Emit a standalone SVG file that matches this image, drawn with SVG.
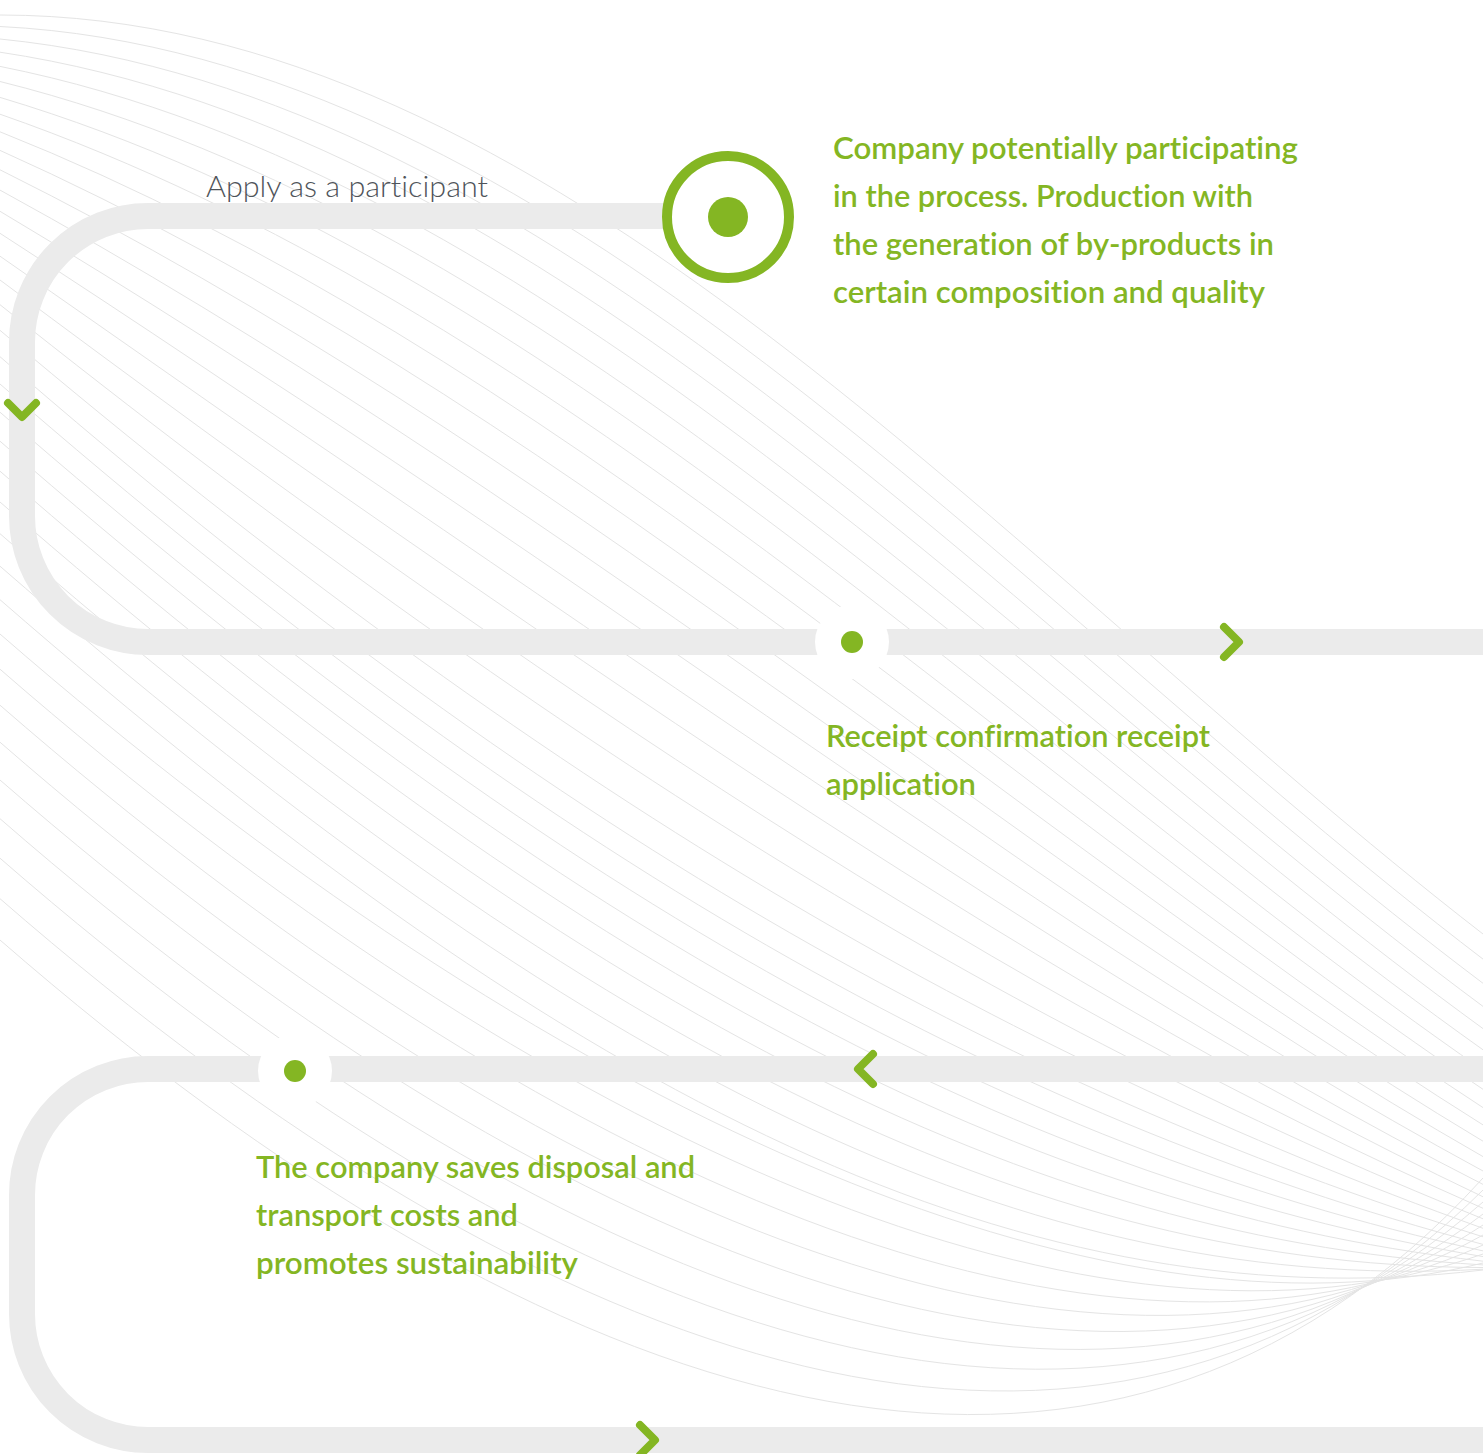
<svg xmlns="http://www.w3.org/2000/svg" width="1483" height="1454" viewBox="0 0 1483 1454">
<style>
.bg{fill:none;stroke:#e4e4e4;stroke-width:1}
.track{fill:none;stroke:#ebebeb;stroke-width:26}
.chev{fill:none;stroke:#84b623;stroke-width:8;stroke-linecap:round;stroke-linejoin:round}
.dot{fill:#84b623}
.halo{fill:#ffffff}
.lbl{font-family:Lato,"Open Sans","Liberation Sans",sans-serif;font-weight:600;font-size:30px;fill:#84b623;font-variant-ligatures:no-common-ligatures}
.gray{font-family:Lato,"Open Sans","Liberation Sans",sans-serif;font-weight:300;font-size:29px;fill:#4f545a;font-variant-ligatures:no-common-ligatures}
</style>
<rect width="1483" height="1454" fill="#ffffff"/>
<g id="background">
<path class="bg" d="M0 15 C550 15 1000 560 1483 934"/>
<path class="bg" d="M0 26.5 C550 53.8 1000 590 1483 959.1"/>
<path class="bg" d="M0 39 C550 93.7 1000 619 1483 983.3"/>
<path class="bg" d="M0 52.2 C550 134.2 1000 648 1483 1006.4"/>
<path class="bg" d="M0 66.4 C550 175.8 1000 677 1483 1028.6"/>
<path class="bg" d="M0 81.5 C550 218.2 1000 706 1483 1049.8"/>
<path class="bg" d="M0 97.4 C550 261.5 1000 735 1483 1070.1"/>
<path class="bg" d="M0 114.2 C550 305.6 1000 764 1483 1089.3"/>
<path class="bg" d="M0 131.8 C550 350.5 1000 793 1483 1107.6"/>
<path class="bg" d="M0 150.4 C550 396.5 1000 822 1483 1124.9"/>
<path class="bg" d="M0 169.8 C550 443.2 1000 851 1483 1141.2"/>
<path class="bg" d="M0 190.1 C550 490.9 1000 880 1483 1156.6"/>
<path class="bg" d="M0 211.3 C550 539.4 1000 909 1483 1171"/>
<path class="bg" d="M0 233.3 C550 588.8 1000 938 1483 1184.4"/>
<path class="bg" d="M0 256.2 C550 639 1000 967 1483 1196.8"/>
<path class="bg" d="M0 280 C550 690.1 1000 996 1483 1208.3"/>
<path class="bg" d="M0 304.7 C550 742.2 1000 1025 1483 1218.8"/>
<path class="bg" d="M0 330.3 C550 795.1 1000 1054.9 1483 1228.3"/>
<path class="bg" d="M0 356.7 C550 835.2 1000 1085.1 1483 1236.8"/>
<path class="bg" d="M0 384 C550 862.5 1000 1115.4 1483 1244.4"/>
<path class="bg" d="M0 412.2 C550 890.7 1000 1145.7 1483 1250.9"/>
<path class="bg" d="M0 441.2 C550 919.7 1000 1176 1483 1256.6"/>
<path class="bg" d="M0 471.2 C550 949.7 1000 1206.3 1483 1261.2"/>
<path class="bg" d="M0 502 C550 980.5 1000 1236.6 1483 1264.9"/>
<path class="bg" d="M0 533.7 C550 1012.2 1000 1266.9 1483 1267.5"/>
<path class="bg" d="M0 566.2 C550 1044.7 1000 1297.1 1483 1269.2"/>
<path class="bg" d="M0 599.7 C550 1078.2 1000 1327.4 1483 1270"/>
<path class="bg" d="M0 634 C550 1112.5 1100 1357.7 1483 1263"/>
<path class="bg" d="M0 669.2 C550 1147.7 1100 1388 1483 1254"/>
<path class="bg" d="M0 705.2 C550 1183.7 1100 1418.3 1483 1245"/>
<path class="bg" d="M0 742.2 C550 1220.7 1100 1448.6 1483 1235"/>
<path class="bg" d="M0 780 C550 1258.5 1100 1478.9 1483 1225"/>
<path class="bg" d="M0 818.7 C550 1297.2 1100 1509.1 1483 1214"/>
<path class="bg" d="M0 858.2 C550 1336.7 1100 1539.4 1483 1202"/>
<path class="bg" d="M0 898.7 C550 1377.2 1100 1569.7 1483 1190"/>
<path class="bg" d="M0 940 C550 1418.5 1100 1600 1483 1178"/>
</g>
<g id="connectors">
<path id="track-upper" class="track" d="M680 216 H148 A126 126 0 0 0 22 342 V516 A126 126 0 0 0 148 642 H1483"/>
<path id="track-lower" class="track" d="M1483 1069 H148 A126 126 0 0 0 22 1195 V1314 A126 126 0 0 0 148 1440 H1483"/>
<polyline class="chev" points="8,403 22,417 36,403"/>
<polyline class="chev" points="1224,627 1239,642 1224,657"/>
<polyline class="chev" points="873,1054 858,1069 873,1084"/>
<polyline class="chev" points="640,1425 655,1440 640,1455"/>
<text class="gray" x="206" y="197" textLength="282" lengthAdjust="spacingAndGlyphs">Apply as a participant</text>
</g>
<g id="node-start">
<circle cx="728" cy="217" r="61" fill="#ffffff" stroke="#84b623" stroke-width="10"/>
<circle class="dot" cx="728" cy="217" r="20"/>
<text class="lbl" x="833" y="159" textLength="465" lengthAdjust="spacingAndGlyphs">Company potentially participating</text>
<text class="lbl" x="833" y="207" textLength="420" lengthAdjust="spacingAndGlyphs">in the process. Production with</text>
<text class="lbl" x="833" y="255" textLength="441" lengthAdjust="spacingAndGlyphs">the generation of by-products in</text>
<text class="lbl" x="833" y="303" textLength="432" lengthAdjust="spacingAndGlyphs">certain composition and quality</text>
</g>
<g id="node-receipt">
<circle class="halo" cx="852" cy="642" r="37"/>
<circle class="dot" cx="852" cy="642" r="11"/>
<text class="lbl" x="826" y="747" textLength="384" lengthAdjust="spacingAndGlyphs">Receipt confirmation receipt</text>
<text class="lbl" x="826" y="795" textLength="150" lengthAdjust="spacingAndGlyphs">application</text>
</g>
<g id="node-saves">
<circle class="halo" cx="295" cy="1071" r="37"/>
<circle class="dot" cx="295" cy="1071" r="11"/>
<text class="lbl" x="256" y="1178" textLength="439" lengthAdjust="spacingAndGlyphs">The company saves disposal and</text>
<text class="lbl" x="256" y="1226" textLength="262" lengthAdjust="spacingAndGlyphs">transport costs and</text>
<text class="lbl" x="256" y="1274" textLength="322" lengthAdjust="spacingAndGlyphs">promotes sustainability</text>
</g>
</svg>
